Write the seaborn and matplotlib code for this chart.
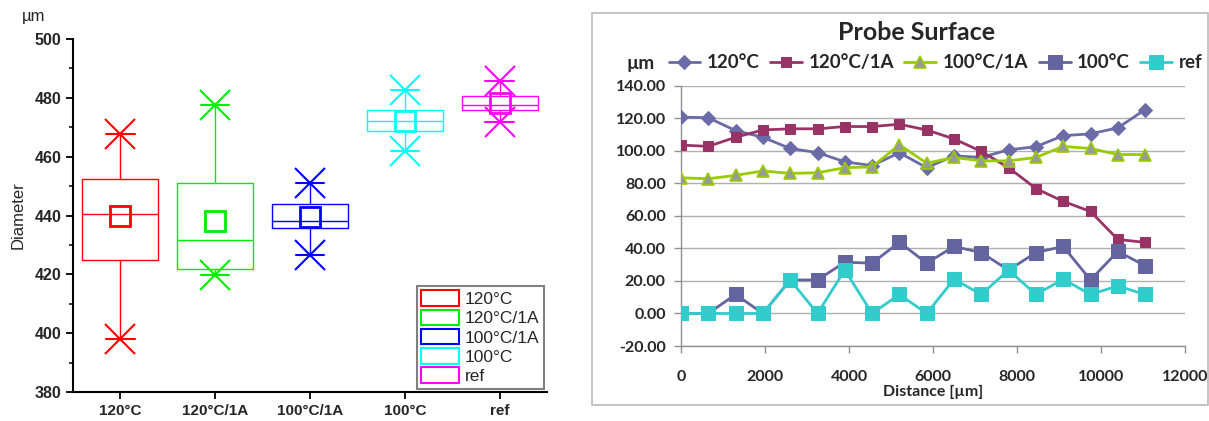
import matplotlib
matplotlib.use("Agg")
import matplotlib.pyplot as plt
from matplotlib.patches import Rectangle, Patch
import seaborn as sns
import pandas as pd

# %% left panel: box statistics
groups = ["120°C", "120°C/1A", "100°C/1A", "100°C", "ref"]
box_colors = ["#FF0000", "#00EE00", "#0000FF", "#00FFFF", "#FF00FF"]
q1 = [424.8, 421.8, 435.7, 468.6, 475.8]
q3 = [452.3, 450.9, 443.9, 475.8, 480.7]
medians = [440.4, 431.7, 438.3, 472.1, 477.7]
means = [439.8, 438.1, 439.4, 472.1, 478.2]
lows = [398.0, 419.9, 426.7, 462.0, 471.8]
highs = [467.6, 477.6, 450.9, 482.7, 485.8]

# %% right panel: surface profile
distance = [0, 650, 1300, 1950, 2600, 3250, 3900, 4550, 5200,
            5850, 6500, 7150, 7800, 8450, 9100, 9750, 10400, 11050]
s120 = [120.7, 120.3, 112.4, 108.3, 101.4, 98.9, 93.2, 90.9, 98.8,
        89.6, 96.9, 95.9, 100.6, 102.5, 109.3, 110.4, 114.1, 125.3]
s120_1a = [103.5, 102.7, 108.3, 112.8, 113.5, 113.5, 114.9, 114.9, 116.3,
           112.8, 107.3, 99.6, 89.6, 76.8, 68.9, 62.7, 45.5, 43.7]
s100_1a = [83.4, 82.8, 84.9, 87.6, 86.1, 86.5, 89.6, 90.1, 103.7,
           92.4, 95.9, 93.8, 93.8, 95.9, 102.7, 101.4, 97.7, 97.7]
s100 = [0, 0, 11.7, 0, 20.6, 20.6, 31.5, 30.9, 43.8,
        30.9, 41.2, 37.4, 26.7, 37.4, 41.2, 20.6, 38.1, 29.4]
sref = [0, 0, 0, 0, 20.6, 0, 26.7, 0, 11.7,
        0, 21.0, 11.7, 26.7, 11.7, 21.0, 11.7, 16.9, 11.7]

sns.set_theme(style="ticks")
plt.rcParams["font.family"] = ["Liberation Sans", "DejaVu Sans"]

W, H = 1209, 421
fig = plt.figure(figsize=(W / 100, H / 100), dpi=100)

# ---------- left: box chart ----------
axL = fig.add_axes([73 / W, 1 - 392 / H, (547 - 73) / W, (392 - 39) / H])
stats = []
for i, g in enumerate(groups):
    stats.append(dict(label=g, q1=q1[i], q3=q3[i], med=medians[i], mean=means[i],
                      whislo=lows[i], whishi=highs[i], fliers=[lows[i], highs[i]]))
art = axL.bxp(stats, positions=range(len(groups)), widths=0.8, capwidths=0.3,
              showmeans=True, patch_artist=False)
for i, c in enumerate(box_colors):
    art["boxes"][i].set(color=c, linewidth=1)
    art["medians"][i].set(color=c, linewidth=1)
    for ln in art["whiskers"][2 * i:2 * i + 2]:
        ln.set(color=c, linewidth=1)
    for ln in art["caps"][2 * i:2 * i + 2]:
        ln.set(color=c, linewidth=1.5)
    art["fliers"][i].set(marker="x", markersize=21, markeredgewidth=1.5,
                         markeredgecolor=c, markerfacecolor="none")
    art["means"][i].set(marker="s", markersize=15, markeredgewidth=2,
                        markeredgecolor=c, markerfacecolor="none")

axL.set_xlim(-0.5, 4.5)
axL.set_ylim(380, 500)
axL.set_yticks(range(380, 501, 20))
axL.set_yticks(range(390, 500, 20), minor=True)
axL.set_xticks(range(len(groups)))
axL.set_xticklabels(groups, fontweight="bold", fontsize=11)
for t in axL.get_yticklabels():
    t.set_fontweight("bold")
    t.set_fontsize(11.5)
axL.tick_params(axis="both", which="major", length=5, width=1.3, color="black")
axL.tick_params(axis="y", which="minor", length=3, width=1.1, color="black")
for s in ["top", "right"]:
    axL.spines[s].set_visible(False)
for s in ["left", "bottom"]:
    axL.spines[s].set_linewidth(1.5)
    axL.spines[s].set_color("black")
axL.set_ylabel("Diameter", fontsize=12, labelpad=6)
fig.text(22 / W, 1 - 17 / H, "µm", fontsize=12, va="center", ha="left")

handles = [Patch(facecolor="none", edgecolor=c, linewidth=1.5) for c in box_colors]
legL = axL.legend(handles, groups, loc="lower right", fontsize=12.5,
                  handlelength=2.2, handleheight=1.0, labelspacing=0.15,
                  handletextpad=0.3, borderpad=0.25, borderaxespad=0.2,
                  fancybox=False, framealpha=1)
legL.get_frame().set_edgecolor("#808080")
legL.get_frame().set_linewidth(1.5)

# ---------- right: line chart ----------
rfont = ["Lato", "DejaVu Sans"]
fig.patches.append(Rectangle((592 / W, 1 - 405 / H), (1208 - 592) / W, (405 - 13) / H,
                             transform=fig.transFigure, fill=False,
                             edgecolor="#BBBBBB", linewidth=1.2))

axR = fig.add_axes([681 / W, 1 - 346 / H, (1185 - 681) / W, (346 - 85.7) / H])
series = [
    ("120°C", s120, dict(color="#6B6BA8", marker="D", markersize=7.5,
                         markerfacecolor="#6B6BA8", markeredgecolor="#6B6BA8")),
    ("120°C/1A", s120_1a, dict(color="#993366", marker="s", markersize=7,
                               markerfacecolor="#993366", markeredgecolor="#993366")),
    ("100°C/1A", s100_1a, dict(color="#99CC00", marker="^", markersize=9,
                               markerfacecolor="#999999", markeredgecolor="#99CC00",
                               markeredgewidth=1.2)),
    ("100°C", s100, dict(color="#64649E", marker="s", markersize=10,
                         markerfacecolor="#64649E", markeredgecolor="#64649E")),
    ("ref", sref, dict(color="#33CCCC", marker="s", markersize=10,
                       markerfacecolor="#33CCCC", markeredgecolor="#33CCCC")),
]
for name, vals, kw in series:
    df = pd.DataFrame({"Distance": distance, "Value": vals})
    sns.lineplot(data=df, x="Distance", y="Value", ax=axR, label=name,
                 linewidth=2, zorder=3, **kw)

axR.set_xlim(0, 12000)
axR.set_ylim(-20, 140)
axR.set_xticks(range(0, 12001, 2000))
axR.set_yticks(range(-20, 141, 20))
axR.set_yticklabels([f"{v:.2f}" for v in range(-20, 141, 20)])
axR.grid(axis="y", color="#B0B0B0", linewidth=1, zorder=0)
axR.set_axisbelow(True)
for s in ["top", "right"]:
    axR.spines[s].set_visible(False)
for s in ["left", "bottom"]:
    axR.spines[s].set_color("#909090")
    axR.spines[s].set_linewidth(1)
axR.tick_params(axis="y", length=5, width=1, color="#909090", pad=6)
axR.tick_params(axis="x", length=5, width=1, color="#909090", pad=12)
for t in axR.get_xticklabels() + axR.get_yticklabels():
    t.set_family(rfont)
    t.set_fontweight("bold")
    t.set_fontsize(11.5)
axR.set_xlabel("Distance [µm]", family=rfont, fontweight="bold", fontsize=11.5, labelpad=1)
axR.set_ylabel("")

legR = axR.legend(loc="center", bbox_to_anchor=(0.505, 1.088), ncol=5, frameon=False,
                  prop=dict(family=rfont, weight="bold", size=13.5),
                  handlelength=1.7, handletextpad=0.35, columnspacing=0.55,
                  borderaxespad=0)
fig.text(641 / W, 1 - 63 / H, "µm", family=rfont, fontweight="bold", fontsize=13.5,
         ha="center", va="center")
fig.text(916 / W, 1 - 32 / H, "Probe Surface", family=rfont, fontweight="bold",
         fontsize=18, ha="center", va="center")

fig.savefig("out.png", dpi=100)
